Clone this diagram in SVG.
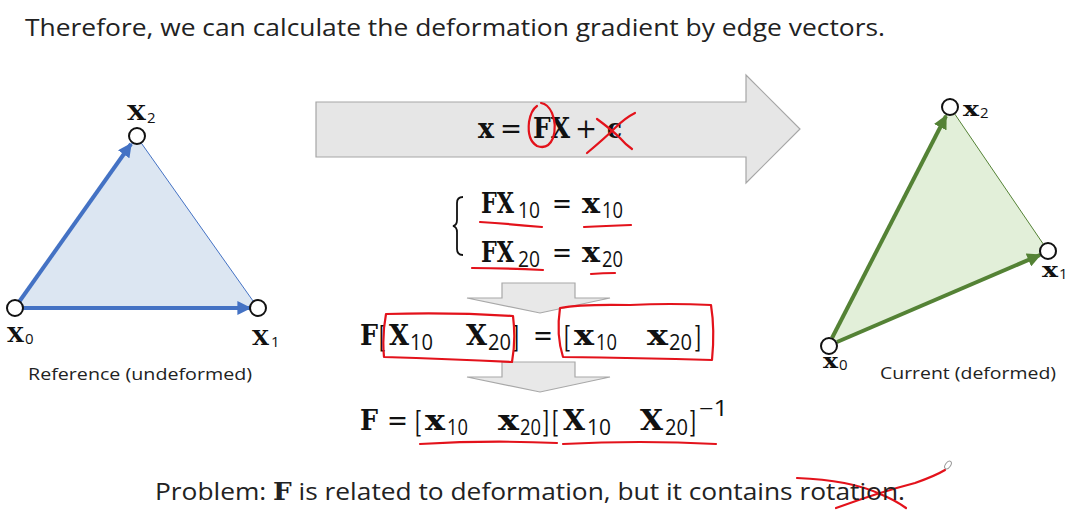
<svg xmlns="http://www.w3.org/2000/svg" width="1081" height="512" viewBox="0 0 1081 512">
<style>
.t{font-family:"Open Sans","Noto Sans",sans-serif;fill:#222}
.m{font-family:"DejaVu Serif","Liberation Serif",serif;font-weight:bold;fill:#111;font-size:27px}
.mr{font-family:"DejaVu Serif","Liberation Serif",serif;fill:#111;font-size:27px}
.br{font-family:"DejaVu Serif","Liberation Serif",serif;fill:#111;font-size:30px}
.s{font-family:"Open Sans","Liberation Sans",sans-serif;fill:#111;font-size:21px}
.vl{font-family:"DejaVu Serif","Liberation Serif",serif;font-weight:bold;fill:#111;font-size:21px}
.vs{font-family:"Open Sans","Liberation Sans",sans-serif;fill:#111;font-size:15px}
.ink{fill:none;stroke:#e3121b;stroke-width:2.2;stroke-linecap:round;stroke-linejoin:round}
.vtx{fill:#fff;stroke:#111;stroke-width:2}
.ga{fill:#e8e8e8;stroke:#a8a8a8;stroke-width:1.2}
</style>
<defs>
<marker id="ab" viewBox="0 0 10 10" refX="9" refY="5" markerWidth="3.5" markerHeight="3.5" orient="auto"><path d="M0,0L10,5L0,10z" fill="#4472c4"/></marker>
<marker id="ag" viewBox="0 0 10 10" refX="9" refY="5" markerWidth="3.5" markerHeight="3.5" orient="auto"><path d="M0,0L10,5L0,10z" fill="#548235"/></marker>
</defs>
<rect width="1081" height="512" fill="#fff"/>
<text class="t" x="25" y="36" font-size="24" textLength="860" lengthAdjust="spacingAndGlyphs">Therefore, we can calculate the deformation gradient by edge vectors.</text>

<g id="reference">
<polygon points="15,308 258,308 137,137" fill="#dce6f2" stroke="#4472c4" stroke-width="1"/>
<g id="ref-edges">
<line x1="19" y1="302" x2="131" y2="144" stroke="#4472c4" stroke-width="4" marker-end="url(#ab)"/>
<line x1="23" y1="308" x2="250" y2="308" stroke="#4472c4" stroke-width="4" marker-end="url(#ab)"/>
</g>
<circle class="vtx" cx="15" cy="308" r="8"/>
<circle class="vtx" cx="258" cy="308" r="8"/>
<circle class="vtx" cx="137" cy="136" r="8"/>
<text class="vl" x="127" y="120" textLength="19" lengthAdjust="spacingAndGlyphs">X</text><text class="vs" x="147" y="123">2</text>
<text class="vl" x="7" y="342" textLength="17" lengthAdjust="spacingAndGlyphs">X</text><text class="vs" x="25" y="344">0</text>
<text class="vl" x="252" y="345" textLength="17" lengthAdjust="spacingAndGlyphs">X</text><text class="vs" x="271" y="347">1</text>
<text class="t" x="28" y="380" font-size="17" textLength="224" lengthAdjust="spacingAndGlyphs">Reference (undeformed)</text>
</g>

<g id="current">
<polygon points="829,346 1048,251 950,107" fill="#e2efd9" stroke="#548235" stroke-width="1"/>
<line x1="832" y1="338" x2="946" y2="116" stroke="#548235" stroke-width="4" marker-end="url(#ag)"/>
<line x1="837" y1="342" x2="1040" y2="255" stroke="#548235" stroke-width="4" marker-end="url(#ag)"/>
<circle class="vtx" cx="829" cy="346" r="8"/>
<circle class="vtx" cx="1048" cy="251" r="8"/>
<circle class="vtx" cx="950" cy="107" r="8"/>
<text class="vl" x="963" y="116" textLength="16" lengthAdjust="spacingAndGlyphs">x</text><text class="vs" x="980" y="118">2</text>
<text class="vl" x="1042" y="277" textLength="16" lengthAdjust="spacingAndGlyphs">x</text><text class="vs" x="1059" y="279">1</text>
<text class="vl" x="823" y="368" textLength="15" lengthAdjust="spacingAndGlyphs">x</text><text class="vs" x="839" y="370">0</text>
<text class="t" x="880" y="379" font-size="17" textLength="176" lengthAdjust="spacingAndGlyphs">Current (deformed)</text>
</g>

<g id="big-arrow">
<polygon points="316,102 746,102 746,75 800,129 746,183 746,157 316,157" fill="#e6e6e6" stroke="#a6a6a6" stroke-width="1.2"/>
<text class="m" x="478" y="138" textLength="16" lengthAdjust="spacingAndGlyphs">x</text>
<text class="mr" x="500" y="138" textLength="22" lengthAdjust="spacingAndGlyphs">=</text>
<text class="m" x="533" y="138" textLength="37" lengthAdjust="spacingAndGlyphs">FX</text>
<text class="mr" x="575" y="138" textLength="22" lengthAdjust="spacingAndGlyphs">+</text>
<text class="m" x="607" y="138" textLength="15" lengthAdjust="spacingAndGlyphs">c</text>
</g>

<g id="system">
<path d="M463,197 Q457,197 457,203 L457,220 Q457,225 453,226 Q457,227 457,232 L457,249 Q457,255 463,255" fill="none" stroke="#111" stroke-width="1.8"/>
<text class="m" x="481" y="213" textLength="33" lengthAdjust="spacingAndGlyphs">FX</text><text class="s" x="518" y="218" textLength="22" lengthAdjust="spacingAndGlyphs">10</text>
<text class="mr" x="552" y="213" textLength="20" lengthAdjust="spacingAndGlyphs">=</text>
<text class="m" x="582" y="213" textLength="18" lengthAdjust="spacingAndGlyphs">x</text><text class="s" x="602" y="218" textLength="21" lengthAdjust="spacingAndGlyphs">10</text>
<text class="m" x="481" y="262" textLength="33" lengthAdjust="spacingAndGlyphs">FX</text><text class="s" x="518" y="267" textLength="22" lengthAdjust="spacingAndGlyphs">20</text>
<text class="mr" x="552" y="262" textLength="20" lengthAdjust="spacingAndGlyphs">=</text>
<text class="m" x="582" y="262" textLength="18" lengthAdjust="spacingAndGlyphs">x</text><text class="s" x="602" y="267" textLength="21" lengthAdjust="spacingAndGlyphs">20</text>
</g>

<g id="down-arrow-1"><polygon class="ga" points="502,283 575,283 575,298 610,298 540,313 467,298 502,298"/></g>

<g id="matrix-eq">
<text class="m" x="360" y="345" textLength="18" lengthAdjust="spacingAndGlyphs">F</text>
<text class="br" x="379" y="347" textLength="7" lengthAdjust="spacingAndGlyphs">[</text>
<text class="m" x="389" y="345" textLength="20" lengthAdjust="spacingAndGlyphs">X</text><text class="s" x="410" y="350" textLength="23" lengthAdjust="spacingAndGlyphs">10</text>
<text class="m" x="466" y="345" textLength="21" lengthAdjust="spacingAndGlyphs">X</text><text class="s" x="488" y="350" textLength="23" lengthAdjust="spacingAndGlyphs">20</text>
<text class="br" x="512" y="347" textLength="7" lengthAdjust="spacingAndGlyphs">]</text>
<text class="mr" x="533" y="345" textLength="20" lengthAdjust="spacingAndGlyphs">=</text>
<text class="br" x="564" y="347" textLength="7" lengthAdjust="spacingAndGlyphs">[</text>
<text class="m" x="574" y="345" textLength="20" lengthAdjust="spacingAndGlyphs">x</text><text class="s" x="596" y="350" textLength="21" lengthAdjust="spacingAndGlyphs">10</text>
<text class="m" x="647" y="345" textLength="21" lengthAdjust="spacingAndGlyphs">x</text><text class="s" x="669" y="350" textLength="23" lengthAdjust="spacingAndGlyphs">20</text>
<text class="br" x="694" y="347" textLength="7" lengthAdjust="spacingAndGlyphs">]</text>
</g>

<g id="down-arrow-2"><polygon class="ga" points="502,362 575,362 575,377 610,377 540,392 467,377 502,377"/></g>

<g id="solution">
<text class="m" x="360" y="430" textLength="18" lengthAdjust="spacingAndGlyphs">F</text>
<text class="mr" x="387" y="430" textLength="21" lengthAdjust="spacingAndGlyphs">=</text>
<text class="br" x="415" y="432" textLength="7" lengthAdjust="spacingAndGlyphs">[</text>
<text class="m" x="425" y="430" textLength="20" lengthAdjust="spacingAndGlyphs">x</text><text class="s" x="447" y="435" textLength="21" lengthAdjust="spacingAndGlyphs">10</text>
<text class="m" x="498" y="430" textLength="21" lengthAdjust="spacingAndGlyphs">x</text><text class="s" x="520" y="435" textLength="21" lengthAdjust="spacingAndGlyphs">20</text>
<text class="br" x="542" y="432" textLength="7" lengthAdjust="spacingAndGlyphs">]</text>
<text class="br" x="552" y="432" textLength="7" lengthAdjust="spacingAndGlyphs">[</text>
<text class="m" x="563" y="430" textLength="22" lengthAdjust="spacingAndGlyphs">X</text><text class="s" x="587" y="435" textLength="24" lengthAdjust="spacingAndGlyphs">10</text>
<text class="m" x="640" y="430" textLength="23" lengthAdjust="spacingAndGlyphs">X</text><text class="s" x="665" y="435" textLength="23" lengthAdjust="spacingAndGlyphs">20</text>
<text class="br" x="689" y="432" textLength="7" lengthAdjust="spacingAndGlyphs">]</text>
<text class="s" x="699" y="416" textLength="29" lengthAdjust="spacingAndGlyphs">−1</text>
</g>

<g id="ink">
<path class="ink" d="M537,106 Q531,110 529,122 Q527,140 537,146 Q548,150 553,138 Q557,125 552,113 Q548,104 541,103"/>
<path class="ink" d="M587,153 Q605,138 615,128 Q625,118 635,113"/>
<path class="ink" d="M597,119 Q612,130 620,138 Q626,145 632,149"/>
<path class="ink" d="M480,222 Q510,224 542,227"/>
<path class="ink" d="M584,227 Q605,226 631,225"/>
<path class="ink" d="M472,268 Q505,268 543,270"/>
<path class="ink" d="M591,274 Q603,273 615,273"/>
<path class="ink" d="M386,314 Q450,312 513,316 Q516,340 512,362 Q450,359 384,357 Q382,335 386,314"/>
<path class="ink" d="M560,308 Q580,304 630,305 Q670,303 711,305 Q715,330 712,360 Q640,358 563,357 Q556,335 560,308"/>
<path class="ink" d="M420,444 Q490,440 557,443"/>
<path class="ink" d="M563,444 Q640,440 716,444"/>
<path class="ink" d="M797,478 Q850,480 880,494 Q895,500 906,508"/>
<path class="ink" d="M836,508 Q880,492 915,483 Q935,476 945,470"/>
<ellipse cx="948" cy="465" rx="2.5" ry="4.5" fill="#fff" stroke="#999" stroke-width="1" transform="rotate(35 948 465)"/>
</g>

<text class="t" x="155" y="500" font-size="24" textLength="750" lengthAdjust="spacingAndGlyphs">Problem: <tspan font-family="DejaVu Serif, serif" font-weight="bold" font-size="24">F</tspan> is related to deformation, but it contains rotation.</text>
</svg>
